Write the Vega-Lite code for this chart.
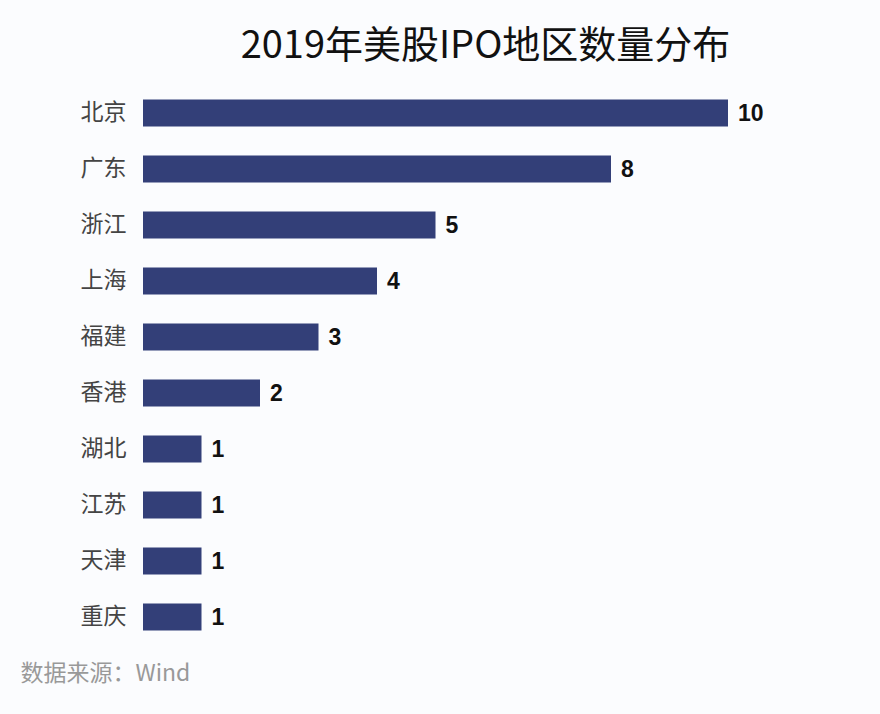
{
  "$schema": "https://vega.github.io/schema/vega-lite/v6.json",
  "width": 585,
  "height": 560,
  "autosize": {"type": "none"},
  "padding": {"left": 143, "top": 85, "right": 152, "bottom": 69},
  "background": "#fbfcfe",
  "title": {
    "text": "2019年美股IPO地区数量分布",
    "anchor": "middle",
    "frame": "group",
    "dx": 50,
    "offset": 19,
    "fontSize": 38,
    "font": "Noto Sans CJK SC",
    "fontWeight": "normal",
    "color": "#111111"
  },
  "data": {
    "values": [
      {"region": "北京", "count": 10},
      {"region": "广东", "count": 8},
      {"region": "浙江", "count": 5},
      {"region": "上海", "count": 4},
      {"region": "福建", "count": 3},
      {"region": "香港", "count": 2},
      {"region": "湖北", "count": 1},
      {"region": "江苏", "count": 1},
      {"region": "天津", "count": 1},
      {"region": "重庆", "count": 1}
    ]
  },
  "encoding": {
    "y": {
      "field": "region",
      "type": "nominal",
      "sort": null,
      "scale": {"paddingInner": 0.52, "paddingOuter": 0.26},
      "axis": {
        "title": null,
        "ticks": false,
        "domain": false,
        "labelPadding": 17,
        "labelFontSize": 23,
        "labelFont": "Noto Sans CJK SC",
        "labelColor": "#444444"
      }
    },
    "x": {
      "field": "count",
      "type": "quantitative",
      "scale": {"domain": [0, 10], "nice": false},
      "axis": {
        "labels": false,
        "ticks": false,
        "domain": false,
        "grid": false,
        "title": "数据来源：Wind",
        "titleAnchor": "start",
        "titleAlign": "left",
        "titleX": -123,
        "titleY": 35,
        "titleBaseline": "alphabetic",
        "titleFont": "Noto Sans CJK SC",
        "titleFontSize": 23,
        "titleFontWeight": "normal",
        "titleColor": "#999999"
      }
    }
  },
  "layer": [
    {"mark": {"type": "bar", "color": "#333f78"}},
    {
      "mark": {
        "type": "text",
        "align": "left",
        "baseline": "middle",
        "dx": 10,
        "dy": 1,
        "fontSize": 23,
        "fontWeight": "bold",
        "font": "Liberation Sans",
        "color": "#111111"
      },
      "encoding": {"text": {"field": "count", "type": "quantitative"}}
    }
  ],
  "config": {"view": {"stroke": null}}
}
